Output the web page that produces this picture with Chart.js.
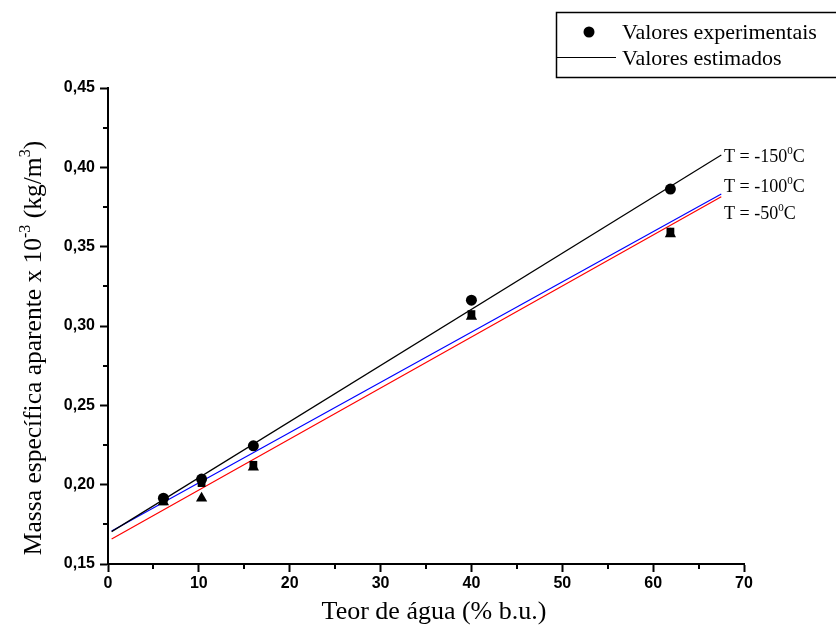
<!DOCTYPE html>
<html>
<head>
<meta charset="utf-8">
<script src="https://cdn.jsdelivr.net/npm/chart.js@4"></script>
<style>
html,body{margin:0;padding:0;background:#fff;}
#wrap{width:836px;height:625px;}
</style>
</head>
<body>
<div id="wrap"><canvas id="c" width="836" height="625"></canvas></div>
<script>
// Data
const teorAgua = [6.1, 10.3, 16.0, 40.0, 61.9];
const exp150 = [0.1915, 0.2035, 0.2245, 0.3163, 0.3863];
const exp100 = [0.1895, 0.2010, 0.2125, 0.3075, 0.3595];
const exp50  = [0.1890, 0.1915, 0.2110, 0.3060, 0.3580];
const lineX = [0.4, 67.5];
const est150 = [0.1704, 0.4078];
const est100 = [0.1708, 0.3832];
const est50  = [0.1658, 0.3815];
const xTicks = [0, 10, 20, 30, 40, 50, 60, 70];
const yTicks = [0.15, 0.20, 0.25, 0.30, 0.35, 0.40, 0.45];
const seriesLabels = ['T = -150', 'T = -100', 'T = -50'];
const legendLabels = ['Valores experimentais', 'Valores estimados'];
const xTitle = 'Teor de água (% b.u.)';

const pts = (xs, ys) => xs.map((x, i) => ({x: x, y: ys[i]}));

const SERIF = '"Liberation Serif", "Times New Roman", serif';

function drawSup(ctx, parts, x, y, size) {
  let cx = x;
  for (const [t, sup] of parts) {
    ctx.font = (sup ? Math.round(size * 0.62) : size) + 'px ' + SERIF;
    ctx.fillText(t, cx, sup ? y - size * 0.42 : y);
    cx += ctx.measureText(t).width;
  }
  return cx - x;
}
function measureSup(ctx, parts, size) {
  let w = 0;
  for (const [t, sup] of parts) {
    ctx.font = (sup ? Math.round(size * 0.62) : size) + 'px ' + SERIF;
    w += ctx.measureText(t).width;
  }
  return w;
}

const custom = {
  id: 'custom',
  afterDraw(chart) {
    const ctx = chart.ctx;
    const xs = chart.scales.x, ys = chart.scales.y;
    const ca = chart.chartArea;
    ctx.save();
    // minor ticks
    ctx.strokeStyle = '#000';
    ctx.lineWidth = 2;
    ctx.beginPath();
    for (let i = 0; i < xTicks.length - 1; i++) {
      const v = (xTicks[i] + xTicks[i + 1]) / 2;
      const px = Math.round(xs.getPixelForValue(v));
      ctx.moveTo(px, ca.bottom); ctx.lineTo(px, ca.bottom + 5);
    }
    for (let i = 0; i < yTicks.length - 1; i++) {
      const v = (yTicks[i] + yTicks[i + 1]) / 2;
      const py = Math.round(ys.getPixelForValue(v));
      ctx.moveTo(ca.left, py); ctx.lineTo(ca.left - 5, py);
    }
    ctx.stroke();

    ctx.fillStyle = '#000';
    ctx.textBaseline = 'alphabetic';
    ctx.textAlign = 'left';
    // x title
    ctx.font = '26px ' + SERIF;
    const xw = ctx.measureText(xTitle).width;
    ctx.fillText(xTitle, 434 - xw / 2, 619);

    // y title (rotated, with superscripts)
    const yParts = [['Massa específica aparente x 10', false], ['-3', true], [' (kg/m', false], ['3', true], [')', false]];
    const ysz = 25.5;
    const yw = measureSup(ctx, yParts, ysz);
    ctx.save();
    ctx.translate(41, 348);
    ctx.rotate(-Math.PI / 2);
    drawSup(ctx, yParts, -yw / 2, 0, ysz);
    ctx.restore();

    // series labels at right
    const lsz = 18;
    const labYs = [162, 192, 219];
    seriesLabels.forEach((s, i) => {
      drawSup(ctx, [[s, false], ['0', true], ['C', false]], 724, labYs[i], lsz);
    });

    // legend box
    ctx.lineWidth = 1.5;
    ctx.strokeStyle = '#000';
    ctx.strokeRect(556.5, 12.5, 290, 65);
    ctx.beginPath();
    ctx.arc(589, 32, 5.5, 0, Math.PI * 2);
    ctx.fill();
    ctx.lineWidth = 1;
    ctx.beginPath();
    ctx.moveTo(557, 57.5); ctx.lineTo(616, 57.5);
    ctx.stroke();
    ctx.font = '22px ' + SERIF;
    ctx.fillText(legendLabels[0], 622, 39);
    ctx.fillText(legendLabels[1], 622, 65);
    ctx.restore();
  }
};

const lineDs = (label, ys, color) => ({
  type: 'line', label: label, data: pts(lineX, ys),
  borderColor: color, borderWidth: 1.2, pointRadius: 0, fill: false, order: 2
});
const scatDs = (label, ys, style, r) => ({
  type: 'scatter', label: label, data: pts(teorAgua, ys),
  pointStyle: style, pointRadius: r, backgroundColor: '#000', borderColor: '#000', borderWidth: 0, order: 1
});

new Chart(document.getElementById('c'), {
  data: {
    datasets: [
      lineDs(legendLabels[1] + ' ' + seriesLabels[0], est150, '#000000'),
      lineDs(legendLabels[1] + ' ' + seriesLabels[1], est100, '#0000ff'),
      lineDs(legendLabels[1] + ' ' + seriesLabels[2], est50, '#ff0000'),
      scatDs(legendLabels[0] + ' ' + seriesLabels[2], exp50, 'triangle', 6.5),
      scatDs(legendLabels[0] + ' ' + seriesLabels[1], exp100, 'rect', 5.5),
      scatDs(legendLabels[0] + ' ' + seriesLabels[0], exp150, 'circle', 5.5)
    ]
  },
  options: {
    responsive: false,
    animation: false,
    devicePixelRatio: 1,
    layout: { padding: { top: 88, right: 92, left: 0, bottom: 0 } },
    plugins: { legend: { display: false }, tooltip: { enabled: false } },
    scales: {
      x: {
        type: 'linear', min: 0, max: 70,
        afterBuildTicks: s => { s.ticks = xTicks.map(v => ({value: v})); },
        afterFit: s => { s.height = 61; },
        grid: { drawOnChartArea: false, tickLength: 8, tickColor: '#000', tickWidth: 2 },
        border: { display: true, color: '#000', width: 2 },
        ticks: { color: '#000', padding: 2, font: { family: 'Liberation Sans', size: 16, weight: 'bold' }, maxRotation: 0, callback: v => String(v) }
      },
      y: {
        type: 'linear', min: 0.15, max: 0.45,
        afterBuildTicks: s => { s.ticks = yTicks.map(v => ({value: v})); },
        afterFit: s => { s.width = 108; },
        grid: { drawOnChartArea: false, tickLength: 8, tickColor: '#000', tickWidth: 2 },
        border: { display: true, color: '#000', width: 2 },
        ticks: { color: '#000', padding: 5, font: { family: 'Liberation Sans', size: 16, weight: 'bold' }, callback: v => v.toFixed(2).replace('.', ',') }
      }
    }
  },
  plugins: [custom]
});
</script>
</body>
</html>
